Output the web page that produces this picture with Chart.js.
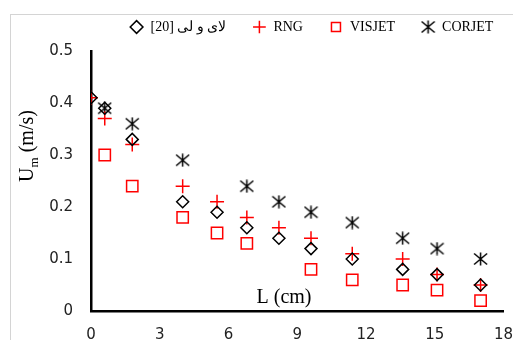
<!DOCTYPE html>
<html>
<head>
<meta charset="utf-8">
<script src="https://cdn.jsdelivr.net/npm/chart.js@4"></script>
<style>
  html, body { margin: 0; padding: 0; background: #fff; }
  #wrap { width: 513px; height: 340px; }
</style>
</head>
<body>
<div id="wrap"><canvas id="chart" width="513" height="340"></canvas></div>
<script>
// datos
const lengthCm = [0, 0.6, 1.8, 4, 5.5, 6.8, 8.2, 9.6, 11.4, 13.6, 15.1, 17];
const laiLi  = [0.41, 0.39, 0.33, 0.21, 0.19, 0.16, 0.14, 0.12, 0.10, 0.08, 0.07, 0.05];
const rng    = [0.41, 0.37, 0.32, 0.24, 0.21, 0.18, 0.16, 0.14, 0.11, 0.10, 0.07, 0.05];
const visjet = [null, 0.30, 0.24, 0.18, 0.15, 0.13, null, 0.08, 0.06, 0.05, 0.04, 0.02];
const corjet = [null, 0.39, 0.36, 0.29, null, 0.24, 0.21, 0.19, 0.17, 0.14, 0.12, 0.10];
const seriesNames = ['[20] لای و لی', 'RNG', 'VISJET', 'CORJET'];
const xTicks = [0, 3, 6, 9, 12, 15, 18];
const yTicks = [0, 0.1, 0.2, 0.3, 0.4, 0.5];

function pts(vals) {
  return lengthCm.map((x, i) => ({ x: x, y: vals[i] })).filter(p => p.y !== null);
}

// marcador de CORJET: X con linea vertical
function starMarker(w, h) {
  const c = document.createElement('canvas');
  c.width = w; c.height = h;
  const g = c.getContext('2d');
  const cx = w / 2, cy = h / 2;
  const dx = w / 2 - 1, dy = h / 2 - 1.5;
  g.strokeStyle = '#000';
  g.lineWidth = 1.5;
  g.beginPath();
  g.moveTo(cx - dx, cy - dy); g.lineTo(cx + dx, cy + dy);
  g.moveTo(cx + dx, cy - dy); g.lineTo(cx - dx, cy + dy);
  g.moveTo(cx, cy - h / 2 + 0.5); g.lineTo(cx, cy + h / 2 - 0.5);
  g.stroke();
  return c;
}

const framePlugin = {
  id: 'frame',
  beforeDraw(chart) {
    const ctx = chart.ctx;
    ctx.save();
    ctx.strokeStyle = '#d4d4d4';
    ctx.lineWidth = 1;
    ctx.strokeRect(10.5, 14.5, 700, 500);
    ctx.restore();
  },
  afterLayout(chart) {
    // corre la leyenda como en el original
    chart.legend.left += 58;
    chart.legend.right += 58;
    chart.legend.top -= 7;
    chart.legend.bottom -= 7;
  },
  afterDraw(chart) {
    const ctx = chart.ctx;
    ctx.save();
    ctx.fillStyle = '#000';
    // titulo eje x dentro del area
    ctx.font = '20px "Liberation Serif"';
    ctx.textAlign = 'center';
    ctx.textBaseline = 'middle';
    ctx.fillText('L (cm)', 284, 298);
    // titulo eje y con subindice
    ctx.translate(27, 146);
    ctx.rotate(-Math.PI / 2);
    ctx.textBaseline = 'alphabetic';
    ctx.textAlign = 'left';
    ctx.font = '20px "Liberation Serif"';
    const wU = ctx.measureText('U').width;
    const wRest = ctx.measureText(' (m/s)').width;
    ctx.font = '13px "Liberation Serif"';
    const wM = ctx.measureText('m').width;
    let x0 = -(wU + wM + wRest) / 2;
    ctx.font = '20px "Liberation Serif"';
    ctx.fillText('U', x0, 6);
    ctx.font = '13px "Liberation Serif"';
    ctx.fillText('m', x0 + wU, 11);
    ctx.font = '20px "Liberation Serif"';
    ctx.fillText(' (m/s)', x0 + wU + wM, 6);
    ctx.restore();
  }
};

const ctx = document.getElementById('chart').getContext('2d');
new Chart(ctx, {
  type: 'scatter',
  data: {
    datasets: [
      {
        label: seriesNames[0],
        data: pts(laiLi),
        pointStyle: 'rectRot',
        pointRadius: 6,
        pointBorderWidth: 1.5,
        borderColor: '#000',
        backgroundColor: 'rgba(255,255,255,0)'
      },
      {
        label: seriesNames[1],
        data: pts(rng),
        pointStyle: 'cross',
        pointRadius: 7,
        pointBorderWidth: 1.5,
        borderColor: '#ff0000',
        backgroundColor: 'rgba(255,255,255,0)'
      },
      {
        label: seriesNames[2],
        data: pts(visjet),
        pointStyle: 'rect',
        pointRadius: 8,
        pointBorderWidth: 1.5,
        borderColor: '#ff0000',
        backgroundColor: 'rgba(255,255,255,0)'
      },
      {
        label: seriesNames[3],
        data: pts(corjet),
        pointStyle: starMarker(15, 14),
        pointRadius: 7,
        borderColor: '#000',
        backgroundColor: 'rgba(255,255,255,0)'
      }
    ]
  },
  options: {
    responsive: false,
    animation: false,
    layout: { padding: { left: 0, right: 6, top: 1, bottom: 0 } },
    plugins: {
      tooltip: { enabled: false },
      legend: {
        position: 'top',
        align: 'center',
        labels: {
          usePointStyle: true,
          boxHeight: 9,
          padding: 26,
          color: '#000',
          font: { family: '"Liberation Serif"', size: 14 }
        }
      }
    },
    scales: {
      x: {
        type: 'linear',
        min: 0,
        max: 18,
        afterBuildTicks: s => { s.ticks = xTicks.map(v => ({ value: v })); },
        afterFit: s => { s.height = 29; s.paddingLeft = 0; s.paddingRight = 0; },
        grid: { display: false, drawTicks: false },
        border: { display: true, color: '#000', width: 2.5 },
        ticks: {
          padding: 15,
          color: '#222',
          font: { family: '"DejaVu Sans"', size: 15 }
        }
      },
      y: {
        min: 0,
        max: 0.5,
        afterBuildTicks: s => { s.ticks = yTicks.map(v => ({ value: v })); },
        afterFit: s => { s.width = 91; },
        grid: { display: false, drawTicks: false },
        border: { display: true, color: '#000', width: 2.5 },
        ticks: {
          padding: 18,
          color: '#222',
          font: { family: '"DejaVu Sans"', size: 15 },
          callback: v => (v === 0 ? '0' : v.toFixed(1))
        }
      }
    }
  },
  plugins: [framePlugin]
});
</script>
</body>
</html>
